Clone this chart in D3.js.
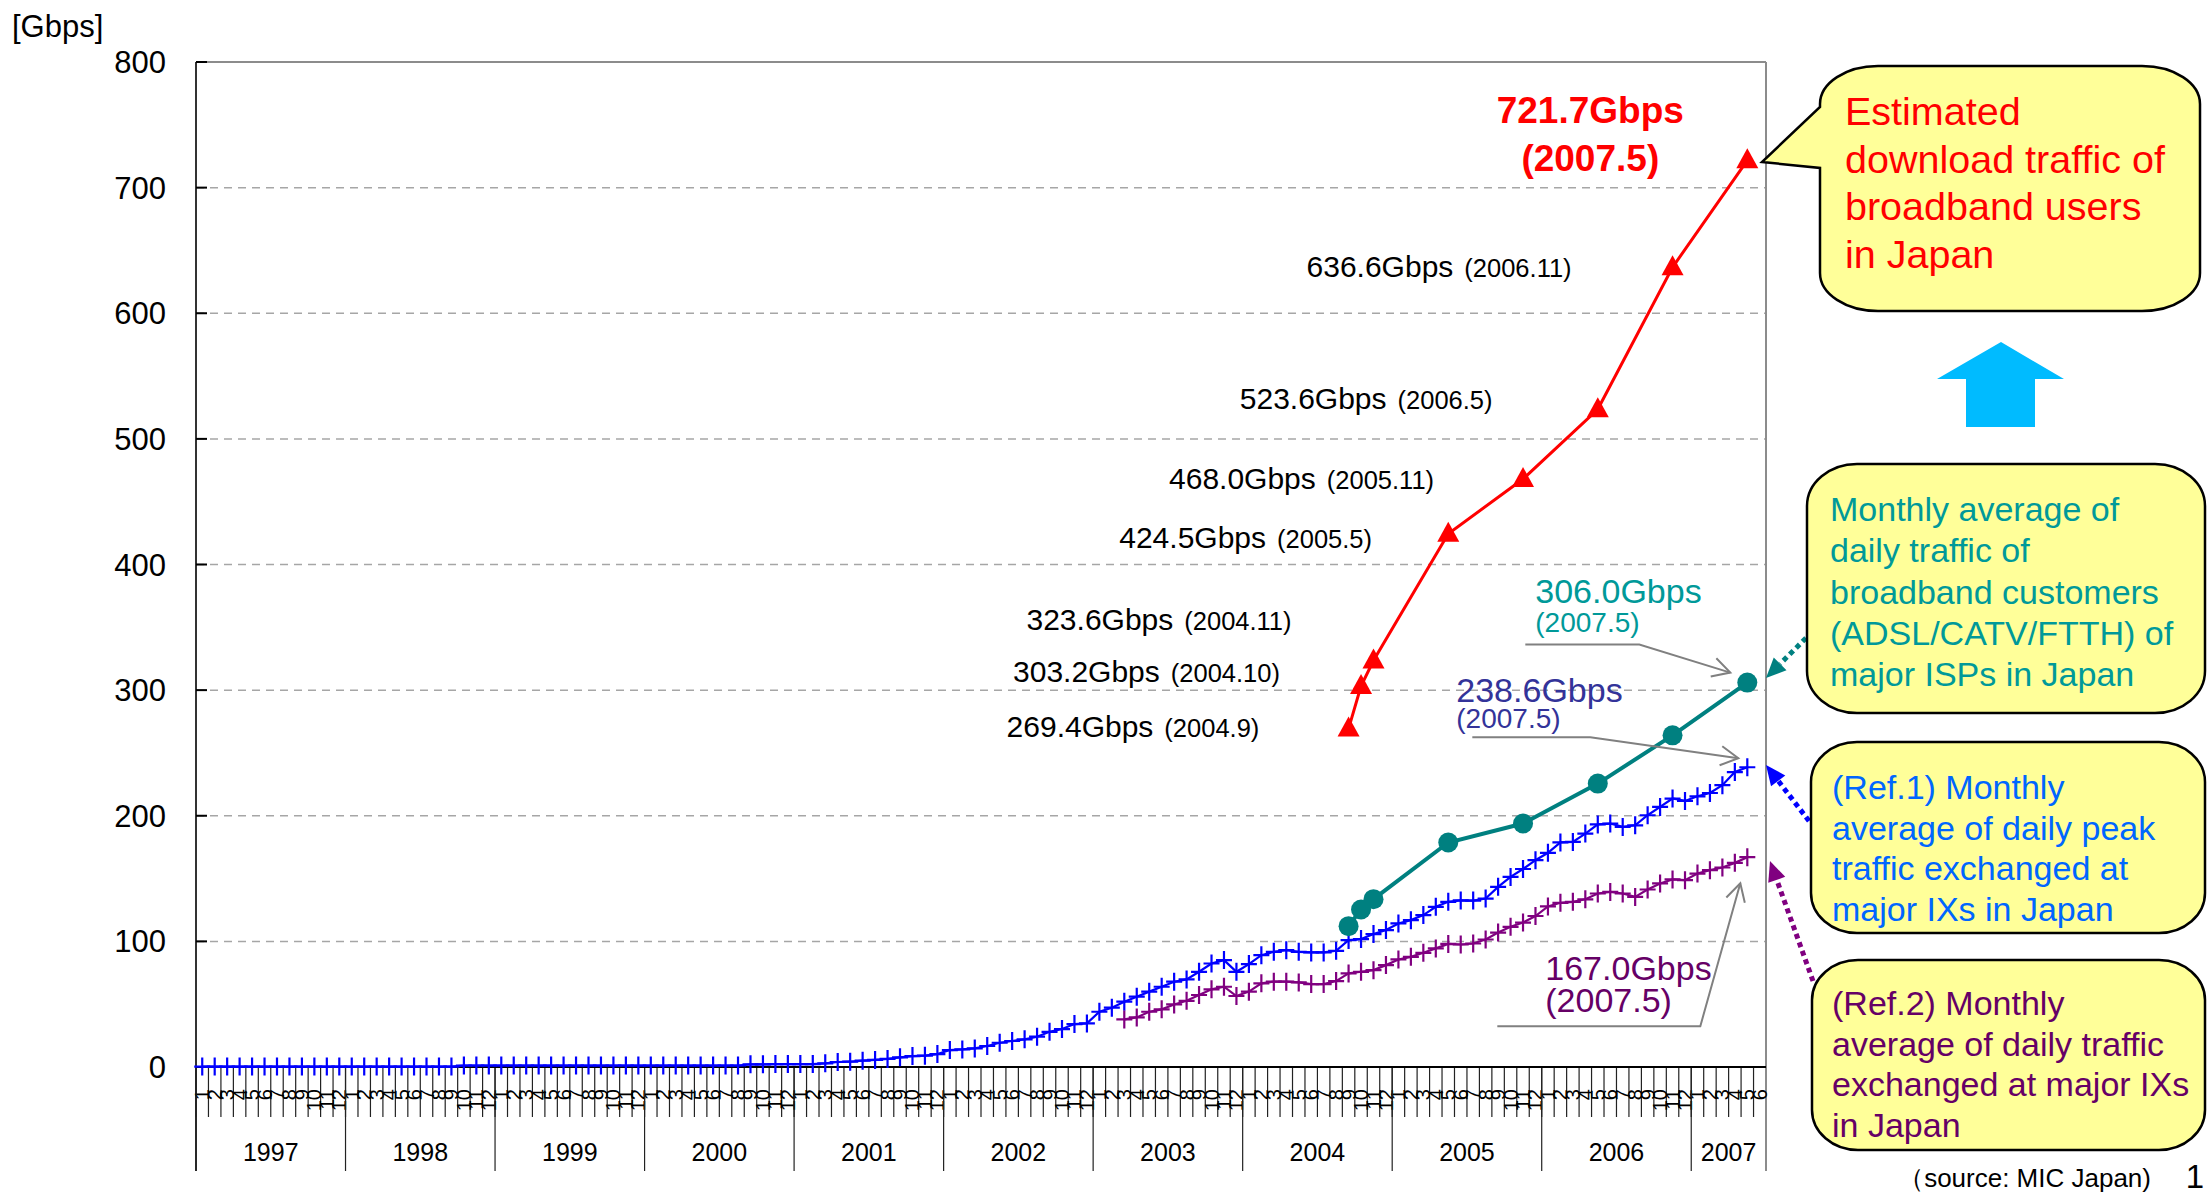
<!DOCTYPE html>
<html>
<head>
<meta charset="utf-8">
<script src="https://cdn.jsdelivr.net/npm/d3@7"></script>
<style>
body { margin: 0; background: #fff; }
text { font-family: "Liberation Sans", Arial, sans-serif; }
</style>
</head>
<body>
<div id="chart"></div>
<script>
// categories
var years = [1997, 1998, 1999, 2000, 2001, 2002, 2003, 2004, 2005, 2006, 2007];
var monthLabels = ["1","2","3","4","5","6","7","8","9","10","11","12"];
var lastYearMonths = 6;
var yTicks = [0, 100, 200, 300, 400, 500, 600, 700, 800];

// (Ref.1) monthly average of daily peak traffic at major IXs, from 1997.1
var ixPeak = [
  0.3,0.3,0.3,0.3,0.3,0.3,0.3,0.3,0.3,0.3,0.3,0.3,
  0.3,0.3,0.3,0.3,0.3,0.3,0.3,0.3,0.3,1.2,1.2,1.2,
  1.2,1.2,1.2,1.2,1.2,1.2,1.2,1.2,1.2,1.2,1.2,1.2,
  1.2,1.2,1.2,1.2,1.2,1.2,1.2,1.2,2.1,2.1,2.3,2.3,
  2.3,2.3,2.9,4.0,4.2,5.0,5.6,6.4,7.7,8.7,9.0,10.3,
  13.5,14.0,14.8,16.7,19.3,20.7,22.0,24.1,28.0,30.2,34.2,34.7,
  44.0,47.2,52.0,56.0,60.0,63.9,67.9,69.7,75.8,82.4,85.1,75.8,
  81.9,89.0,91.7,93.0,91.7,91.2,91.2,92.5,101.0,101.8,105.8,109.0,
  114.3,116.9,120.9,127.5,131.5,132.6,132.5,134.1,143.4,151.3,157.6,164.6,
  170.5,178.8,179.2,185.8,193.1,193.8,191.1,192.4,200.4,207.0,213.7,211.8,
  215.5,218.1,224.3,234.8,238.6
];

// (Ref.2) monthly average of daily traffic at major IXs, from 2003.3
var ixDailyStart = "2003.3";
var ixDaily = [
  37.9,39.5,44.0,45.9,49.8,52.7,57.3,61.8,63.9,56.5,
  60.0,66.6,67.9,67.9,67.3,66.0,66.0,68.4,74.5,75.8,77.1,81.1,
  85.6,87.7,90.9,94.4,98.0,97.5,98.3,101.5,107.0,111.6,115.0,120.2,
  127.8,130.7,131.5,133.5,138.1,139.4,138.1,135.4,141.3,146.1,149.3,148.7,
  154.0,156.7,158.8,162.5,167.0
];

// survey points
var surveyMonths = ["2004.9","2004.10","2004.11","2005.5","2005.11","2006.5","2006.11","2007.5"];
var downloadTraffic = [269.4, 303.2, 323.6, 424.5, 468.0, 523.6, 636.6, 721.7];
var ispTraffic = [112.1, 125.4, 133.6, 178.7, 193.8, 225.6, 264.0, 306.0];

// build month categories
var months = [];
years.forEach(function(y) {
  var n = y === years[years.length - 1] ? lastYearMonths : 12;
  for (var m = 0; m < n; m++) months.push(y + "." + monthLabels[m]);
});

var W = 2208, H = 1194;
var plotLeft = 196, plotRight = 1766, plotTop = 62, plotBottom = 1067;

var svg = d3.select("#chart").append("svg")
  .attr("width", W).attr("height", H)
  .style("background", "#fff");

var x = d3.scaleBand().domain(months).range([plotLeft, plotRight]).padding(0);
var y = d3.scaleLinear().domain([0, 800]).range([plotBottom, plotTop]);
var cx = function(m) { return x(m) + x.bandwidth() / 2; };

// gridlines
svg.append("g").selectAll("line")
  .data(yTicks.filter(function(d) { return d > 0 && d < 800; }))
  .enter().append("line")
  .attr("x1", plotLeft).attr("x2", plotRight)
  .attr("y1", function(d) { return y(d); }).attr("y2", function(d) { return y(d); })
  .attr("stroke", "#a6a6a6").attr("stroke-width", 1.5).attr("stroke-dasharray", "8,6");

// plot border top & right
svg.append("line").attr("x1", plotLeft).attr("x2", plotRight).attr("y1", y(800)).attr("y2", y(800))
  .attr("stroke", "#8c8c8c").attr("stroke-width", 2);
svg.append("line").attr("x1", plotRight).attr("x2", plotRight).attr("y1", y(800)).attr("y2", 1171)
  .attr("stroke", "#8c8c8c").attr("stroke-width", 2);

// y axis
var yAxis = svg.append("g");
yAxis.append("line").attr("x1", plotLeft).attr("x2", plotLeft).attr("y1", y(800)).attr("y2", 1171)
  .attr("stroke", "#333").attr("stroke-width", 2);
yAxis.selectAll("line.tick").data(yTicks).enter().append("line")
  .attr("class", "tick")
  .attr("x1", plotLeft).attr("x2", plotLeft + 11)
  .attr("y1", function(d) { return y(d); }).attr("y2", function(d) { return y(d); })
  .attr("stroke", "#000").attr("stroke-width", 2);
yAxis.selectAll("text").data(yTicks).enter().append("text")
  .attr("x", 166).attr("y", function(d) { return y(d) + 11; })
  .attr("text-anchor", "end")
  .style("font-size", "31px").style("fill", "#000")
  .text(function(d) { return d; });

svg.append("text").attr("x", 12).attr("y", 37)
  .style("font-size", "31px").text("[Gbps]");

// x axis
var xAxis = svg.append("g");
xAxis.selectAll("line.mt").data(months).enter().append("line")
  .attr("class", "mt")
  .attr("x1", function(d) { return x(d); }).attr("x2", function(d) { return x(d); })
  .attr("y1", plotBottom).attr("y2", 1117)
  .attr("stroke", "#222").attr("stroke-width", 1.2);
xAxis.selectAll("text.ml").data(months).enter().append("text")
  .attr("class", "ml")
  .attr("transform", function(d) { return "translate(" + cx(d) + ",1089) rotate(-90)"; })
  .attr("text-anchor", "end").attr("dy", "0.35em")
  .style("font-size", "20px")
  .text(function(d) { return d.split(".")[1]; });

var yearStarts = years.map(function(yr) { return yr + ".1"; });
xAxis.selectAll("line.yr").data(yearStarts).enter().append("line")
  .attr("class", "yr")
  .attr("x1", function(d) { return x(d); }).attr("x2", function(d) { return x(d); })
  .attr("y1", plotBottom).attr("y2", 1171)
  .attr("stroke", "#222").attr("stroke-width", 1.2);
xAxis.selectAll("text.yl").data(years).enter().append("text")
  .attr("class", "yl")
  .attr("x", function(yr, i) {
    var first = x(yr + ".1");
    var last = i === years.length - 1 ? plotRight : x(years[i + 1] + ".1");
    return (first + last) / 2;
  })
  .attr("y", 1161).attr("text-anchor", "middle")
  .style("font-size", "25px")
  .text(function(d) { return d; });

xAxis.append("line").attr("x1", plotLeft).attr("x2", plotRight).attr("y1", plotBottom).attr("y2", plotBottom)
  .attr("stroke", "#000").attr("stroke-width", 2);

// series helpers
function plusSeries(vals, startIdx, color) {
  var pts = vals.map(function(v, i) { return [cx(months[startIdx + i]), y(v)]; });
  var g = svg.append("g");
  g.append("path").attr("d", d3.line()(pts))
    .attr("fill", "none").attr("stroke", color).attr("stroke-width", 2.2);
  g.selectAll("path.p").data(pts).enter().append("path")
    .attr("class", "p")
    .attr("d", function(p) { return "M" + (p[0] - 8) + "," + p[1] + "H" + (p[0] + 8) + "M" + p[0] + "," + (p[1] - 9) + "V" + (p[1] + 9); })
    .attr("stroke", color).attr("stroke-width", 2.2).attr("fill", "none");
}

plusSeries(ixPeak, 0, "#0000ff");
plusSeries(ixDaily, months.indexOf(ixDailyStart), "#800080");

// ISP teal
var tealPts = ispTraffic.map(function(v, i) { return [cx(surveyMonths[i]), y(v)]; });
svg.append("path").attr("d", d3.line()(tealPts))
  .attr("fill", "none").attr("stroke", "#008080").attr("stroke-width", 4);
svg.append("g").selectAll("circle").data(tealPts).enter().append("circle")
  .attr("cx", function(p) { return p[0]; }).attr("cy", function(p) { return p[1]; })
  .attr("r", 10).attr("fill", "#008080");

// download red
var redPts = downloadTraffic.map(function(v, i) { return [cx(surveyMonths[i]), y(v)]; });
svg.append("path").attr("d", d3.line()(redPts))
  .attr("fill", "none").attr("stroke", "#ff0000").attr("stroke-width", 3);
svg.append("g").selectAll("path").data(redPts).enter().append("path")
  .attr("d", function(p) { return "M" + p[0] + "," + (p[1] - 12) + "L" + (p[0] + 11) + "," + (p[1] + 8) + "L" + (p[0] - 11) + "," + (p[1] + 8) + "Z"; })
  .attr("fill", "#ff0000");

// red value labels (offsets from each point)
var redLabelPos = [[-342, 8], [-348, -4], [-347, -30], [-329, 14], [-354, 10], [-358, 0], [-366, 10]];
var fmt = d3.format(".1f");
redLabelPos.forEach(function(o, i) {
  var t = svg.append("text")
    .attr("x", redPts[i][0] + o[0]).attr("y", redPts[i][1] + o[1])
    .style("font-size", "30px").style("fill", "#000");
  t.append("tspan").text(fmt(downloadTraffic[i]) + "Gbps");
  t.append("tspan").attr("dx", 11).style("font-size", "25.5px").text("(" + surveyMonths[i] + ")");
});

var lastRed = redPts[redPts.length - 1];
svg.append("text").attr("x", lastRed[0] - 157).attr("y", lastRed[1] - 37)
  .attr("text-anchor", "middle").style("font-size", "37px").style("font-weight", "bold").style("fill", "#ff0000")
  .text(fmt(downloadTraffic[downloadTraffic.length - 1]) + "Gbps");
svg.append("text").attr("x", lastRed[0] - 157).attr("y", lastRed[1] + 11)
  .attr("text-anchor", "middle").style("font-size", "37px").style("font-weight", "bold").style("fill", "#ff0000")
  .text("(" + surveyMonths[surveyMonths.length - 1] + ")");

// end labels with gray leader arrows
function openArrow(pts) {
  svg.append("path").attr("d", d3.line()(pts))
    .attr("fill", "none").attr("stroke", "#808080").attr("stroke-width", 2);
  var a = pts[pts.length - 2], b = pts[pts.length - 1];
  var ang = Math.atan2(b[1] - a[1], b[0] - a[0]);
  var L = 20, s = 0.5;
  var p1 = [b[0] - L * Math.cos(ang - s), b[1] - L * Math.sin(ang - s)];
  var p2 = [b[0] - L * Math.cos(ang + s), b[1] - L * Math.sin(ang + s)];
  svg.append("path").attr("d", "M" + p1 + "L" + b + "L" + p2)
    .attr("fill", "none").attr("stroke", "#808080").attr("stroke-width", 2);
}

function endLabel(pt, value, color, dx, dy1, dy2, size2, leader) {
  openArrow(leader.map(function(o) { return [pt[0] + o[0], pt[1] + o[1]]; }));
  svg.append("text").attr("x", pt[0] + dx).attr("y", pt[1] + dy1)
    .style("font-size", "34px").style("fill", color).text(fmt(value) + "Gbps");
  svg.append("text").attr("x", pt[0] + dx).attr("y", pt[1] + dy2)
    .style("font-size", size2).style("fill", color).text("(" + surveyMonths[surveyMonths.length - 1] + ")");
}

var lastTeal = tealPts[tealPts.length - 1];
endLabel(lastTeal, ispTraffic[ispTraffic.length - 1], "#009999", -212, -80, -51, "28px",
  [[-222, -38], [-108, -38], [-17, -10]]);

var lastBlue = [cx(months[ixPeak.length - 1]), y(ixPeak[ixPeak.length - 1])];
endLabel(lastBlue, ixPeak[ixPeak.length - 1], "#333399", -291, -65, -39, "28px",
  [[-275, -30], [-157, -30], [-9, -9]]);

var lastPurple = [cx(months[months.indexOf(ixDailyStart) + ixDaily.length - 1]), y(ixDaily[ixDaily.length - 1])];
endLabel(lastPurple, ixDaily[ixDaily.length - 1], "#660066", -202, 123, 155, "34px",
  [[-250, 169], [-47, 169], [-7, 26]]);

// callout boxes
function roundBox(x0, y0, x1, y1, rx, ry, tail) {
  var d = "M" + (x0 + rx) + "," + y0 + "H" + (x1 - rx) +
    "A" + rx + "," + ry + " 0 0 1 " + x1 + "," + (y0 + ry) +
    "V" + (y1 - ry) + "A" + rx + "," + ry + " 0 0 1 " + (x1 - rx) + "," + y1 +
    "H" + (x0 + rx) + "A" + rx + "," + ry + " 0 0 1 " + x0 + "," + (y1 - ry);
  if (tail) d += "V" + tail[2] + "L" + tail[0] + "," + tail[1] + "L" + x0 + "," + tail[3];
  d += "V" + (y0 + ry) + "A" + rx + "," + ry + " 0 0 1 " + (x0 + rx) + "," + y0 + "Z";
  svg.append("path").attr("d", d).attr("fill", "#ffff99").attr("stroke", "#000").attr("stroke-width", 2.5);
}

function boxText(lines, x0, y0, step, size, color) {
  var t = svg.append("text").style("font-size", size).style("fill", color);
  lines.forEach(function(l, i) {
    t.append("tspan").attr("x", x0).attr("y", y0 + i * step).text(l);
  });
}

function dottedArrow(from, tip, color) {
  var ang = Math.atan2(tip[1] - from[1], tip[0] - from[0]);
  var L = 20, w = 9;
  var base = [tip[0] - L * Math.cos(ang), tip[1] - L * Math.sin(ang)];
  svg.append("line").attr("x1", from[0]).attr("y1", from[1]).attr("x2", base[0]).attr("y2", base[1])
    .attr("stroke", color).attr("stroke-width", 5).attr("stroke-dasharray", "5,4");
  var n = [-Math.sin(ang), Math.cos(ang)];
  svg.append("path")
    .attr("d", "M" + tip + "L" + [base[0] + n[0] * w, base[1] + n[1] * w] + "L" + [base[0] - n[0] * w, base[1] - n[1] * w] + "Z")
    .attr("fill", color);
}

roundBox(1820, 66, 2200, 311, 58, 38, [1762, 162, 168, 107]);
boxText(["Estimated", "download traffic of", "broadband users", "in Japan"], 1845, 125, 47.5, "39.5px", "#ff0000");

// up arrow
svg.append("path")
  .attr("d", "M2001,342L2064,379L2035,379L2035,427L1966,427L1966,379L1937,379Z")
  .attr("fill", "#00bbff");

dottedArrow([1806, 638], [1766, 678], "#008080");
roundBox(1807, 464, 2205, 713, 50, 42);
boxText(["Monthly average of", "daily traffic of", "broadband customers", "(ADSL/CATV/FTTH) of", "major ISPs in Japan"],
  1830, 521, 41.3, "34px", "#009999");

dottedArrow([1809, 821], [1766, 765], "#0000ff");
roundBox(1811, 742, 2205, 933, 46, 40);
boxText(["(Ref.1) Monthly", "average of daily peak", "traffic exchanged at", "major IXs in Japan"],
  1832, 799, 40.5, "34px", "#0066ff");

dottedArrow([1813, 981], [1770, 861], "#800080");
roundBox(1812, 960, 2205, 1150, 46, 40);
boxText(["(Ref.2) Monthly", "average of daily traffic", "exchanged at major IXs", "in Japan"],
  1832, 1015, 40.5, "34px", "#660066");

svg.append("text").attr("x", 2151).attr("y", 1187).attr("text-anchor", "end")
  .style("font-size", "26px").text("（source: MIC Japan)");
svg.append("text").attr("x", 2204).attr("y", 1188).attr("text-anchor", "end")
  .style("font-size", "33px").text("1");
</script>
</body>
</html>
